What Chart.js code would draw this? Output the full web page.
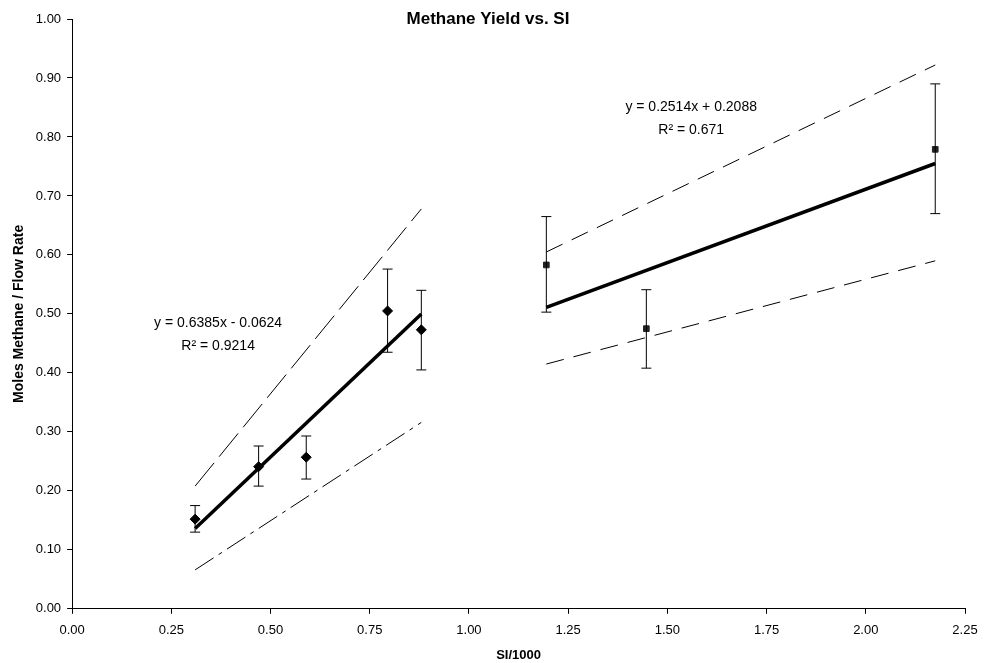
<!DOCTYPE html>
<html>
<head>
<meta charset="utf-8">
<script src="https://cdn.jsdelivr.net/npm/chart.js@4/dist/chart.umd.min.js"></script>
<style>
  html, body { margin: 0; padding: 0; background: #fff; }
  #wrap { width: 985px; height: 663px; }
</style>
</head>
<body>
<div id="wrap"><canvas id="grafico"></canvas></div>
<script>
// pontos medidos (SI/1000 vs moles metano / vazao)
const loX = [0.31, 0.47, 0.59, 0.795, 0.88];
const loY = [0.152, 0.241, 0.257, 0.505, 0.473];
const loErrMin = [0.130, 0.208, 0.220, 0.435, 0.405];
const loErrMax = [0.175, 0.276, 0.293, 0.576, 0.540];

const hiX = [1.195, 1.447, 2.175];
const hiY = [0.583, 0.475, 0.779];
const hiErrMin = [0.503, 0.408, 0.670];
const hiErrMax = [0.665, 0.541, 0.890];

// linhas de tendencia e limites (extremos)
const fitLoX = [0.31, 0.88];
const fitLoY = [0.136, 0.500];
const upLoY = [0.208, 0.678];
const downLoY = [0.066, 0.316];

const fitHiX = [1.195, 2.175];
const fitHiY = [0.511, 0.755];
const upHiY = [0.605, 0.922];
const downHiY = [0.415, 0.590];

const eqLo = ['y = 0.6385x - 0.0624', 'R² = 0.9214'];
const eqHi = ['y = 0.2514x + 0.2088', 'R² = 0.671'];
const eqLoPos = [0.368, 0.485];
const eqHiPos = [1.56, 0.851];

const xTicks = [0, 0.25, 0.5, 0.75, 1, 1.25, 1.5, 1.75, 2, 2.25];

function pts(xs, ys) {
    return xs.map((x, i) => ({ x: x, y: ys[i] }));
}

const fonte = "'Liberation Sans', Arial, sans-serif";

const extras = {
    id: 'extras',
    afterDatasetsDraw(chart) {
        const ctx = chart.ctx;
        const sx = chart.scales.x, sy = chart.scales.y;
        ctx.save();
        ctx.strokeStyle = '#000';
        ctx.lineWidth = 1;
        const barras = (xs, mins, maxs) => {
            xs.forEach((x, i) => {
                const px = sx.getPixelForValue(x);
                const a = sy.getPixelForValue(mins[i]);
                const b = sy.getPixelForValue(maxs[i]);
                ctx.beginPath();
                ctx.moveTo(px, a); ctx.lineTo(px, b);
                ctx.moveTo(px - 5, a); ctx.lineTo(px + 5, a);
                ctx.moveTo(px - 5, b); ctx.lineTo(px + 5, b);
                ctx.stroke();
            });
        };
        barras(loX, loErrMin, loErrMax);
        barras(hiX, hiErrMin, hiErrMax);

        ctx.fillStyle = '#000';
        ctx.textAlign = 'center';
        ctx.textBaseline = 'middle';
        ctx.font = '14px ' + fonte;
        const eq = (linhas, pos) => {
            const px = sx.getPixelForValue(pos[0]);
            const py = sy.getPixelForValue(pos[1]);
            ctx.fillText(linhas[0], px, py);
            ctx.fillText(linhas[1], px, py + 23);
        };
        eq(eqLo, eqLoPos);
        eq(eqHi, eqHiPos);

        ctx.font = 'bold 17px ' + fonte;
        ctx.fillText('Methane Yield vs. SI', 488, 19);
        ctx.restore();
    }
};

const ctx = document.getElementById('grafico').getContext('2d');
new Chart(ctx, {
    type: 'scatter',
    data: {
        datasets: [
            { data: pts(loX, loY), pointStyle: 'rectRot', pointRadius: 5, backgroundColor: '#000', borderColor: '#000', order: 0 },
            { data: pts(hiX, hiY), pointStyle: 'rect', pointRadius: 4, backgroundColor: '#222', borderColor: '#222', order: 0 },
            { type: 'line', data: pts(fitLoX, fitLoY), borderColor: '#000', borderWidth: 3.5, pointRadius: 0, order: 1 },
            { type: 'line', data: pts(fitLoX, upLoY), borderColor: '#000', borderWidth: 1, borderDash: [30, 8], pointRadius: 0, order: 1 },
            { type: 'line', data: pts(fitLoX, downLoY), borderColor: '#000', borderWidth: 1, borderDash: [22, 6, 4, 6], pointRadius: 0, order: 1 },
            { type: 'line', data: pts(fitHiX, fitHiY), borderColor: '#000', borderWidth: 3.5, pointRadius: 0, order: 1 },
            { type: 'line', data: pts(fitHiX, upHiY), borderColor: '#000', borderWidth: 1, borderDash: [18, 10], pointRadius: 0, order: 1 },
            { type: 'line', data: pts(fitHiX, downHiY), borderColor: '#000', borderWidth: 1, borderDash: [18, 10], pointRadius: 0, order: 1 }
        ]
    },
    options: {
        responsive: true,
        maintainAspectRatio: false,
        animation: false,
        layout: { padding: { top: 19, right: 20, left: 11, bottom: 0 } },
        plugins: {
            legend: { display: false },
            tooltip: { enabled: false }
        },
        scales: {
            x: {
                type: 'linear',
                min: 0, max: 2.25,
                afterBuildTicks: (s) => { s.ticks = xTicks.map(v => ({ value: v })); },
                afterFit: (s) => { s.paddingRight = 0; },
                ticks: {
                    color: '#000', font: { family: fonte, size: 13 },
                    callback: (v) => v.toFixed(2), maxRotation: 0, padding: 9
                },
                grid: { drawOnChartArea: false, color: '#000', tickLength: 5 },
                border: { color: '#000', width: 1 },
                title: { display: true, text: 'SI/1000', color: '#000', font: { family: fonte, size: 13, weight: 'bold' }, padding: { top: 0, bottom: 0 } }
            },
            y: {
                min: 0, max: 1,
                ticks: {
                    stepSize: 0.1, color: '#000', font: { family: fonte, size: 13 },
                    callback: (v) => v.toFixed(2), padding: 6
                },
                grid: { drawOnChartArea: false, color: '#000', tickLength: 5 },
                border: { color: '#000', width: 1 },
                title: { display: true, text: 'Moles Methane / Flow Rate', color: '#000', font: { family: fonte, size: 14, weight: 'bold' }, padding: { top: 0, bottom: 2 } }
            }
        }
    },
    plugins: [extras]
});
</script>
</body>
</html>
